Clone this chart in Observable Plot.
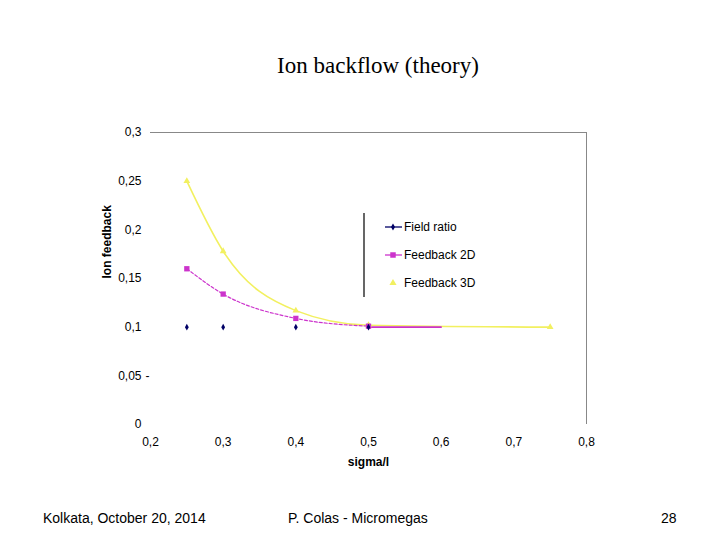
<!DOCTYPE html>
<html>
<head>
<meta charset="utf-8">
<script src="https://cdn.jsdelivr.net/npm/d3@7"></script>
<script src="https://cdn.jsdelivr.net/npm/@observablehq/plot@0.6"></script>
<style>
  body { margin: 0; background: #fff; }
  #page { position: relative; width: 720px; height: 540px; overflow: hidden; background: #fff; font-family: "Liberation Sans", Arial, sans-serif; }
  #page > * { position: absolute; }
  #title { left: 0; width: 756px; top: 53px; text-align: center; font-family: "Liberation Serif", "Times New Roman", serif; font-size: 23px; color: #000; }
  .foot { top: 510px; font-size: 14px; color: #000; }
  #chart { left: 0; top: 0; }
  #legend { left: 0; top: 0; }
</style>
</head>
<body>
<div id="page">
  <div id="chart"></div>
  <div id="title">Ion backflow (theory)</div>
  <div class="foot" style="left:43px">Kolkata, October 20, 2014</div>
  <div class="foot" style="left:288px">P. Colas - Micromegas</div>
  <div class="foot" style="left:661px">28</div>
  <svg id="legend" width="720" height="540"></svg>
</div>
<script>
// ---- data ----
const sigma = [0.25, 0.3, 0.4, 0.5];
const fieldRatio = [0.1, 0.1, 0.1, 0.1];
const feedback2D = [0.16, 0.134, 0.109, 0.101];
const feedback2DTailX = [0.5, 0.6];
const feedback2DTail = [0.1, 0.1];
const sigma3D = [0.25, 0.3, 0.4, 0.5, 0.75];
const feedback3D = [0.25, 0.178, 0.117, 0.102, 0.1];
const xTicks = [0.2, 0.3, 0.4, 0.5, 0.6, 0.7, 0.8];
const yTicks = [0, 0.05, 0.1, 0.15, 0.2, 0.25, 0.3];
const seriesNames = ["Field ratio", "Feedback 2D", "Feedback 3D"];
const seriesColors = ["#000066", "#cc33cc", "#f2f060"];

const fr = sigma.map((x, i) => ({x, y: fieldRatio[i]}));
const f2 = sigma.map((x, i) => ({x, y: feedback2D[i]}));
const f2t = feedback2DTailX.map((x, i) => ({x, y: feedback2DTail[i]}));
const f3 = sigma3D.map((x, i) => ({x, y: feedback3D[i]}));

const comma = d => String(d).replace(".", ",");

const chart = Plot.plot({
  width: 720,
  height: 540,
  marginLeft: 150,
  marginRight: 134,
  marginTop: 132,
  marginBottom: 116,
  style: {fontFamily: "Liberation Sans, Arial, sans-serif", fontSize: "12px", color: "#000", background: "transparent"},
  x: {domain: [0.2, 0.8], ticks: xTicks, tickFormat: comma, tickSize: 0, tickPadding: 13, label: null},
  y: {domain: [0, 0.3], ticks: yTicks, tickFormat: comma, tickSize: 0, tickPadding: 9, label: null},
  marks: [
    Plot.ruleY([0.3], {stroke: "#888", strokeWidth: 1}),
    Plot.ruleX([0.8], {stroke: "#888", strokeWidth: 1}),
    Plot.text(["-"], {x: 0.2, y: 0.05, dx: -3, fontSize: 12}),
    Plot.line(f3, {x: "x", y: "y", stroke: seriesColors[2], strokeWidth: 1.6, curve: "monotone-x"}),
    Plot.line(f2, {x: "x", y: "y", stroke: seriesColors[1], strokeWidth: 1.2, strokeDasharray: "3,2", curve: "monotone-x"}),
    Plot.line(f2t, {x: "x", y: "y", stroke: seriesColors[1], strokeWidth: 1.6}),
    Plot.dot(f3, {x: "x", y: "y", symbol: "triangle", r: 2.5, fill: seriesColors[2]}),
    Plot.dot(f2, {x: "x", y: "y", symbol: "square", r: 3, fill: seriesColors[1]}),
    Plot.dot(fr, {x: "x", y: "y", symbol: "diamond", r: 2, fill: seriesColors[0]}),
    Plot.text(["Ion feedback"], {frameAnchor: "left", dx: -43, rotate: -90, fontWeight: "bold", fontSize: 12}),
    Plot.text(["sigma/l"], {frameAnchor: "bottom", dy: 41, fontWeight: "bold", fontSize: 12})
  ]
});
document.getElementById("chart").appendChild(chart);

// ---- legend (inside the plot area) ----
const lg = d3.select("#legend");
lg.append("line").attr("x1", 364).attr("x2", 364).attr("y1", 213).attr("y2", 297).attr("stroke", "#000").attr("stroke-width", 1.2);
const symbols = [d3.symbolDiamond, d3.symbolSquare, d3.symbolTriangle];
const sizes = [14, 30, 22];
seriesNames.forEach((name, i) => {
  const y = 227 + i * 28;
  if (i < 2) lg.append("line").attr("x1", 385).attr("x2", 402).attr("y1", y).attr("y2", y).attr("stroke", seriesColors[i]).attr("stroke-width", 1.3);
  lg.append("path").attr("d", d3.symbol(symbols[i], sizes[i])()).attr("transform", `translate(393,${y})`).attr("fill", seriesColors[i]);
  lg.append("text").attr("x", 404).attr("y", y).attr("dy", "0.35em").attr("font-size", 12).attr("font-family", "Liberation Sans, Arial, sans-serif").text(name);
});
</script>
</body>
</html>
